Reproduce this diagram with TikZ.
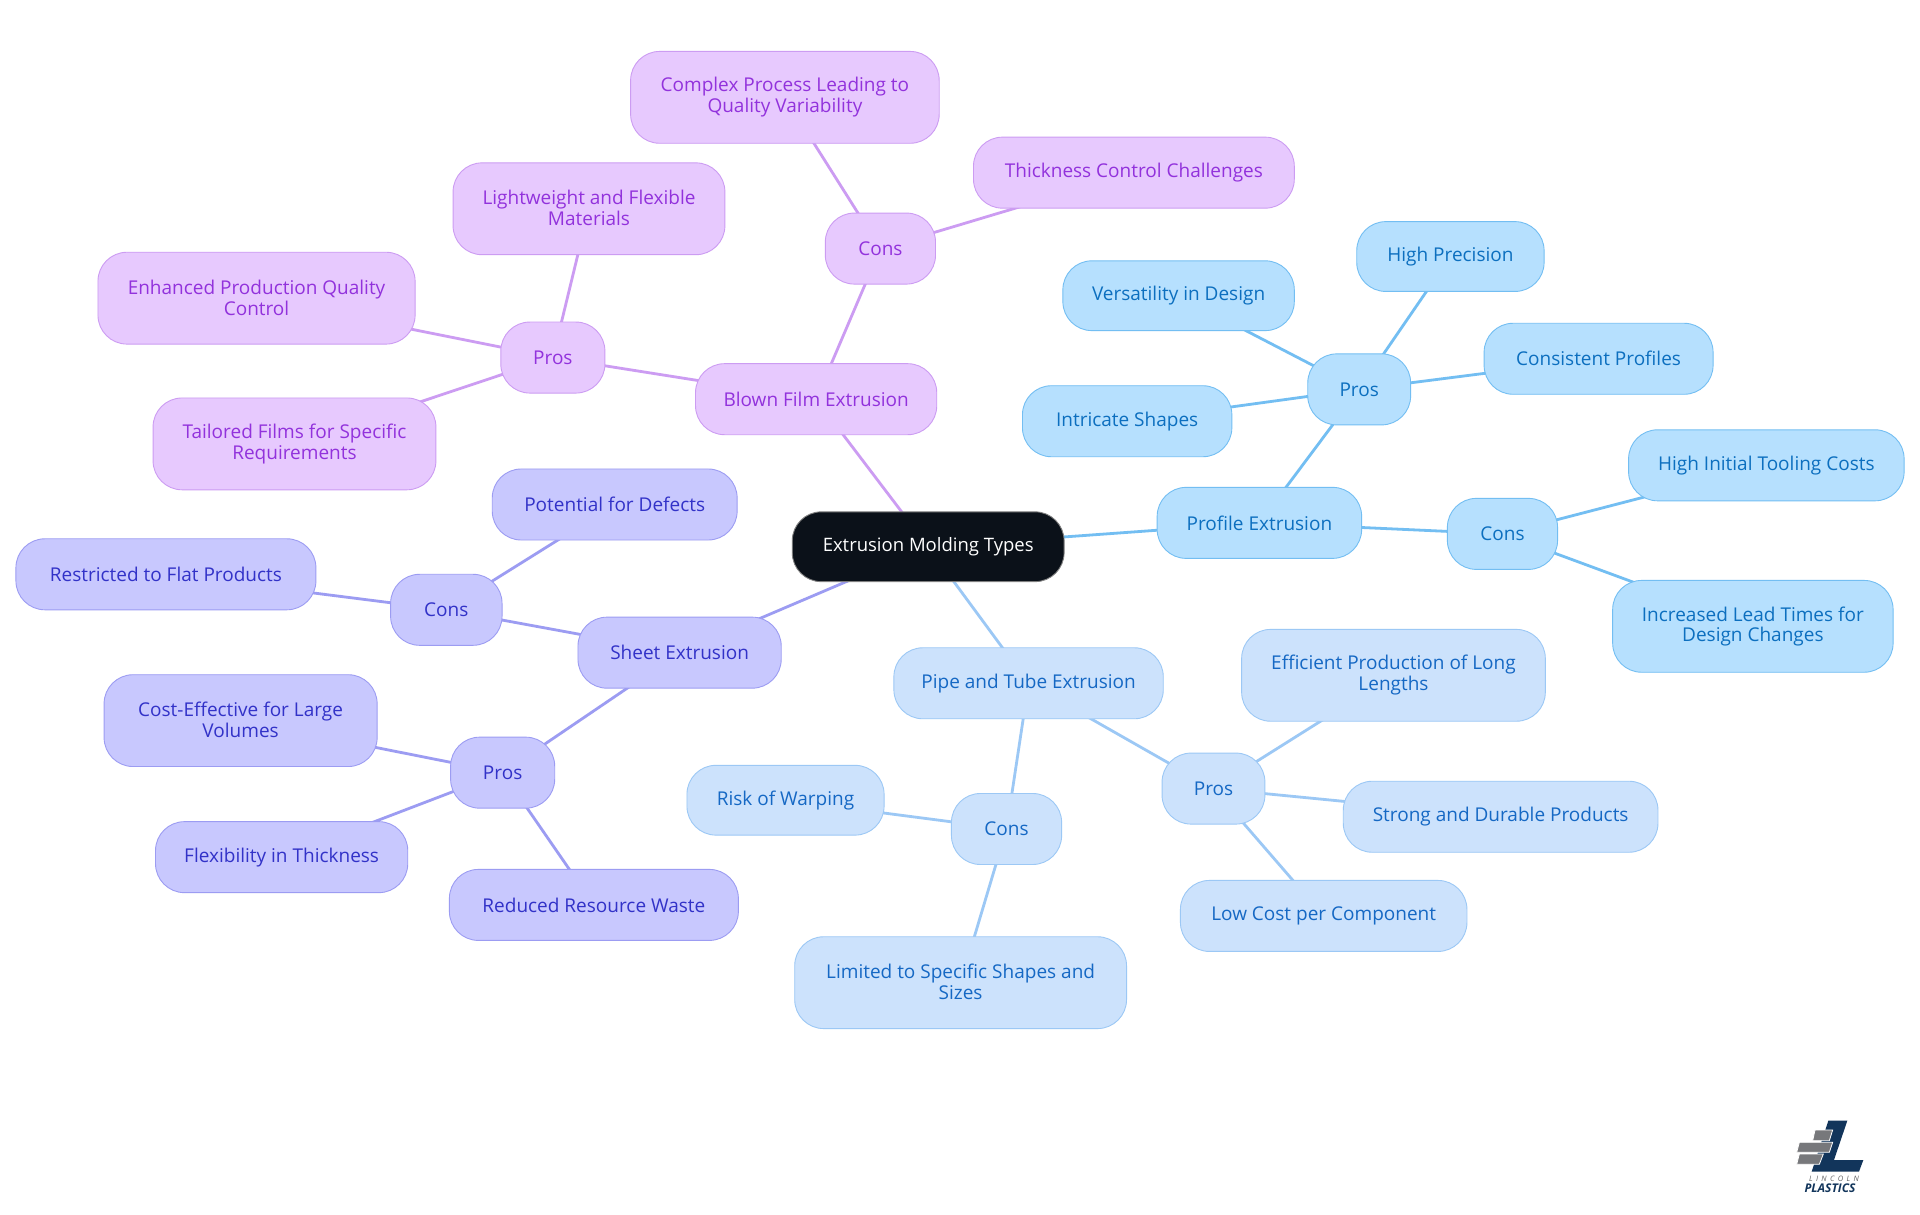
\documentclass[tikz,border=0pt]{standalone}
\usepackage{fontspec}
\setmainfont{Open Sans}
\usetikzlibrary{backgrounds}
\definecolor{bF}{HTML}{B6E0FE}\definecolor{bS}{HTML}{73BEF2}\definecolor{bT}{HTML}{0C6FBF}
\definecolor{pF}{HTML}{CCE2FC}\definecolor{pS}{HTML}{9CC8F5}\definecolor{pT}{HTML}{1568C4}
\definecolor{sF}{HTML}{C8C8FE}\definecolor{sS}{HTML}{9C9CF2}\definecolor{sT}{HTML}{3232C8}
\definecolor{fF}{HTML}{E7C9FE}\definecolor{fS}{HTML}{CC9CF2}\definecolor{fT}{HTML}{9232DC}
\definecolor{rootF}{HTML}{0B1119}
\definecolor{logoN}{HTML}{12355B}\definecolor{logoG}{HTML}{77787B}
\tikzset{
 mm/.style={rounded corners=29pt,draw,line width=0.9pt,inner sep=0pt,align=center,
   font=\fontsize{19}{21}\selectfont},
 blue/.style={mm,fill=bF,draw=bS,text=bT},
 pipe/.style={mm,fill=pF,draw=pS,text=pT},
 sheet/.style={mm,fill=sF,draw=sS,text=sT},
 film/.style={mm,fill=fF,draw=fS,text=fT},
 rootn/.style={mm,fill=rootF,draw=gray,text=white,font=\fontsize{18.5}{21}\selectfont},
 bl/.style={line width=2.8pt,draw=bS},
 pl/.style={line width=2.8pt,draw=pS},
 sl/.style={line width=2.8pt,draw=sS},
 fl/.style={line width=2.8pt,draw=fS},
}
% \mn{name}{style}{x1}{y1}{x2}{y2}{text} in units of the 1568-wide view
\newcommand{\mn}[7]{%
 \pgfmathsetmacro{\cx}{(#3+#5)/2*1.2245}\pgfmathsetmacro{\cy}{(#4+#6)/2*1.2245}%
 \pgfmathsetmacro{\ww}{(#5-#3)*1.2245}\pgfmathsetmacro{\hh}{(#6-#4)*1.2245}%
 \node[#2,minimum width=\ww pt,minimum height=\hh pt] (#1) at (\cx,\cy) {#7};}
\newcommand{\lk}[3]{\draw[#1] (#2.center) -- (#3.center);}
\begin{document}
\begin{tikzpicture}[x=1pt,y=-1pt]
\useasboundingbox (0,0) rectangle (1920,1215);
\mn{root}{rootn}{647}{418}{869}{475}{Extrusion Molding Types}
\mn{prof}{blue}{945}{398}{1112}{456}{Profile Extrusion}
\mn{prp}{blue}{1068}{289}{1152}{347}{Pros}
\mn{hp}{blue}{1108}{181}{1261}{238}{High Precision}
\mn{vd}{blue}{868}{213}{1057}{270}{Versatility in Design}
\mn{cp}{blue}{1212}{264}{1399}{322}{Consistent Profiles}
\mn{is}{blue}{835}{315}{1006}{373}{Intricate Shapes}
\mn{prc}{blue}{1182}{407}{1272}{465}{Cons}
\mn{hi}{blue}{1330}{351}{1555}{409}{High Initial Tooling Costs}
\mn{il}{blue}{1317}{474}{1546}{549}{\raisebox{-2pt}{Increased Lead Times for}\\\raisebox{-1pt}{Design Changes}}
\mn{pipe}{pipe}{730}{529}{950}{587}{Pipe and Tube Extrusion}
\mn{pip}{pipe}{949}{615}{1033}{673}{Pros}
\mn{ef}{pipe}{1014}{514}{1262}{589}{Efficient Production of Long\\Lengths}
\mn{sd}{pipe}{1097}{638}{1354}{696}{Strong and Durable Products}
\mn{lc}{pipe}{964}{719}{1198}{777}{Low Cost per Component}
\mn{pic}{pipe}{777}{648}{867}{706}{Cons}
\mn{rw}{pipe}{561}{625}{722}{682}{Risk of Warping}
\mn{ls}{pipe}{649}{765}{920}{840}{\raisebox{1pt}{Limited to Specific Shapes and}\\\raisebox{1pt}{Sizes}}
\mn{sheet}{sheet}{472}{504}{638}{562}{Sheet Extrusion}
\mn{shc}{sheet}{319}{469}{410}{527}{Cons}
\mn{pd}{sheet}{402}{383}{602}{441}{Potential for Defects}
\mn{rf}{sheet}{13}{440}{258}{498}{Restricted to Flat Products}
\mn{shp}{sheet}{368}{602}{453}{660}{Pros}
\mn{ce}{sheet}{85}{551}{308}{626}{\raisebox{2pt}{Cost-Effective for Large}\\\raisebox{2pt}{Volumes}}
\mn{ft}{sheet}{127}{671}{333}{729}{Flexibility in Thickness}
\mn{rr}{sheet}{367}{710}{603}{768}{Reduced Resource Waste}
\mn{film}{film}{568}{297}{765}{355}{Blown Film Extrusion}
\mn{fip}{film}{409}{263}{494}{321}{Pros}
\mn{lw}{film}{370}{133}{592}{208}{\raisebox{2pt}{Lightweight and Flexible}\\\raisebox{2pt}{Materials}}
\mn{ep}{film}{80}{206}{339}{281}{Enhanced Production Quality\\Control}
\mn{tf}{film}{125}{325}{356}{400}{Tailored Films for Specific\\Requirements}
\mn{fic}{film}{674}{174}{764}{232}{Cons}
\mn{cl}{film}{515}{42}{767}{117}{Complex Process Leading to\\Quality Variability}
\mn{tc}{film}{795}{112}{1057}{170}{Thickness Control Challenges}
\begin{scope}[on background layer]
\fill[white] (0,0) rectangle (1920,1215);
\lk{bl}{root}{prof}\lk{bl}{prof}{prp}\lk{bl}{prp}{hp}\lk{bl}{prp}{vd}\lk{bl}{prp}{cp}\lk{bl}{prp}{is}
\lk{bl}{prof}{prc}\lk{bl}{prc}{hi}\lk{bl}{prc}{il}
\lk{pl}{root}{pipe}\lk{pl}{pipe}{pip}\lk{pl}{pip}{ef}\lk{pl}{pip}{sd}\lk{pl}{pip}{lc}
\lk{pl}{pipe}{pic}\lk{pl}{pic}{rw}\lk{pl}{pic}{ls}
\lk{sl}{root}{sheet}\lk{sl}{sheet}{shc}\lk{sl}{shc}{pd}\lk{sl}{shc}{rf}
\lk{sl}{sheet}{shp}\lk{sl}{shp}{ce}\lk{sl}{shp}{ft}\lk{sl}{shp}{rr}
\lk{fl}{root}{film}\lk{fl}{film}{fip}\lk{fl}{fip}{lw}\lk{fl}{fip}{ep}\lk{fl}{fip}{tf}
\lk{fl}{film}{fic}\lk{fl}{fic}{cl}\lk{fl}{fic}{tc}
\end{scope}
% logo, in the 3x units of the crop at (1760,1100)
\begin{scope}[shift={(1760,1100)},x=0.3333pt,y=-0.3333pt]
\fill[logoN] (205,62)--(262,62)--(222,180)--(310,180)--(297,215)--(155,215)--cycle;
\fill[logoG,draw=white,line width=0.8pt] (165,90)--(218,90)--(208,122)--(158,122)--cycle;
\fill[logoG,draw=white,line width=0.8pt] (118,127)--(218,127)--(208,157)--(110,157)--cycle;
\fill[logoG,draw=white,line width=0.8pt] (118,162)--(190,162)--(178,193)--(110,193)--cycle;
\node[inner sep=0pt,text=logoG!80!black,font=\fontsize{7.5}{8}\itshape\selectfont] (lin) at (222,235) {L\hspace{3.4pt}I\hspace{3.4pt}N\hspace{3.4pt}C\hspace{3.4pt}O\hspace{3.4pt}L\hspace{3.4pt}N};
\node[inner sep=0pt,text=logoN,font=\fontsize{12}{13}\bfseries\itshape\selectfont] (pla) at (210,265) {PLASTICS};
\end{scope}
\end{tikzpicture}
\end{document}
